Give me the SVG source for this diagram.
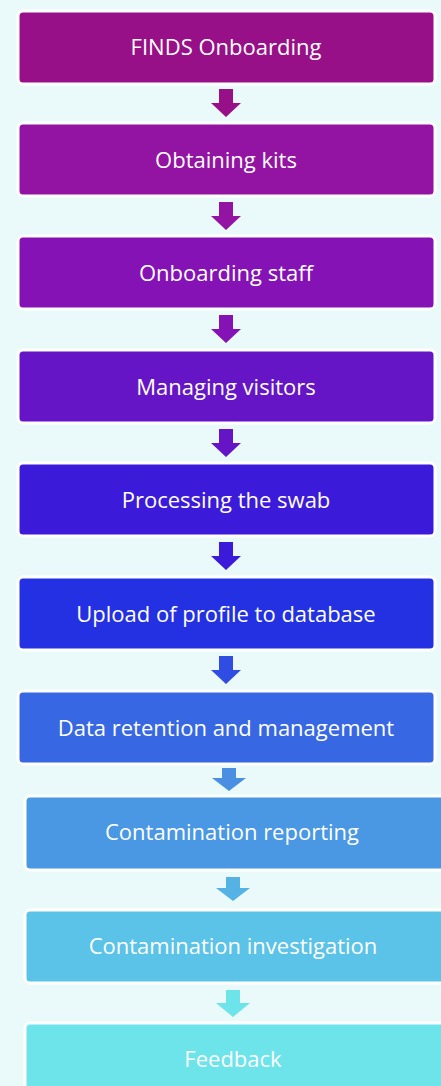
<svg xmlns="http://www.w3.org/2000/svg" width="441" height="1086" viewBox="0 0 441 1086">
<style>
.box{stroke:#ffffff;stroke-width:3}
.lbl{font-family:"Open Sans","Liberation Sans",sans-serif;font-size:22px;fill:#ffffff;text-anchor:middle;dominant-baseline:central}
</style>
<rect x="0" y="0" width="441" height="1086" fill="#EAFAFB"/>
<g id="connectors">
<path d="M219 89h14v14h8l-15 14l-15-14h8z" fill="#981088"/>
<path d="M219 202h14v14h8l-15 14l-15-14h8z" fill="#9313A2"/>
<path d="M219 315h14v14h8l-15 14l-15-14h8z" fill="#8412B5"/>
<path d="M219 429h14v14h8l-15 14l-15-14h8z" fill="#6515C6"/>
<path d="M219 542h14v14h8l-15 14l-15-14h8z" fill="#3C1ADA"/>
<path d="M219 656h14v14h8l-15 14l-15-14h8z" fill="#2F4DE3"/>
<path d="M222 768h14v10h10l-17 13l-17-13h10z" fill="#4A8FE2"/>
<path d="M226 877h14v11h10l-17 13l-17-13h10z" fill="#55B2E5"/>
<path d="M226 990h14v13h10l-17 14l-17-14h10z" fill="#6DE3EA"/>
</g>
<g id="n1"><rect class="box" x="18" y="11" width="417" height="73" rx="5" fill="#981088"/><text class="lbl" x="226" y="46">FINDS Onboarding</text></g>
<g id="n2"><rect class="box" x="18" y="123" width="417" height="73" rx="5" fill="#9313A2"/><text class="lbl" x="226" y="159">Obtaining kits</text></g>
<g id="n3"><rect class="box" x="18" y="236" width="417" height="73" rx="5" fill="#8412B5"/><text class="lbl" x="226" y="272">Onboarding staff</text></g>
<g id="n4"><rect class="box" x="18" y="350" width="417" height="73" rx="5" fill="#6515C6"/><text class="lbl" x="226" y="386">Managing visitors</text></g>
<g id="n5"><rect class="box" x="18" y="463" width="417" height="73" rx="5" fill="#3C1ADA"/><text class="lbl" x="226" y="499">Processing the swab</text></g>
<g id="n6"><rect class="box" x="18" y="577" width="417" height="73" rx="5" fill="#2331E3"/><text class="lbl" x="226" y="613">Upload of profile to database</text></g>
<g id="n7"><rect class="box" x="18" y="691" width="417" height="73" rx="5" fill="#3867E4"/><text class="lbl" x="226" y="727">Data retention and management</text></g>
<g id="n8"><rect class="box" x="25" y="796" width="425" height="74" rx="5" fill="#4A97E3"/><text class="lbl" x="232" y="831">Contamination reporting</text></g>
<g id="n9"><rect class="box" x="25" y="910" width="425" height="73" rx="5" fill="#5BC3E7"/><text class="lbl" x="233" y="945">Contamination investigation</text></g>
<g id="n10"><rect class="box" x="25" y="1023" width="425" height="80" rx="5" fill="#6DE3EA"/><text class="lbl" x="233" y="1058">Feedback</text></g>
</svg>
